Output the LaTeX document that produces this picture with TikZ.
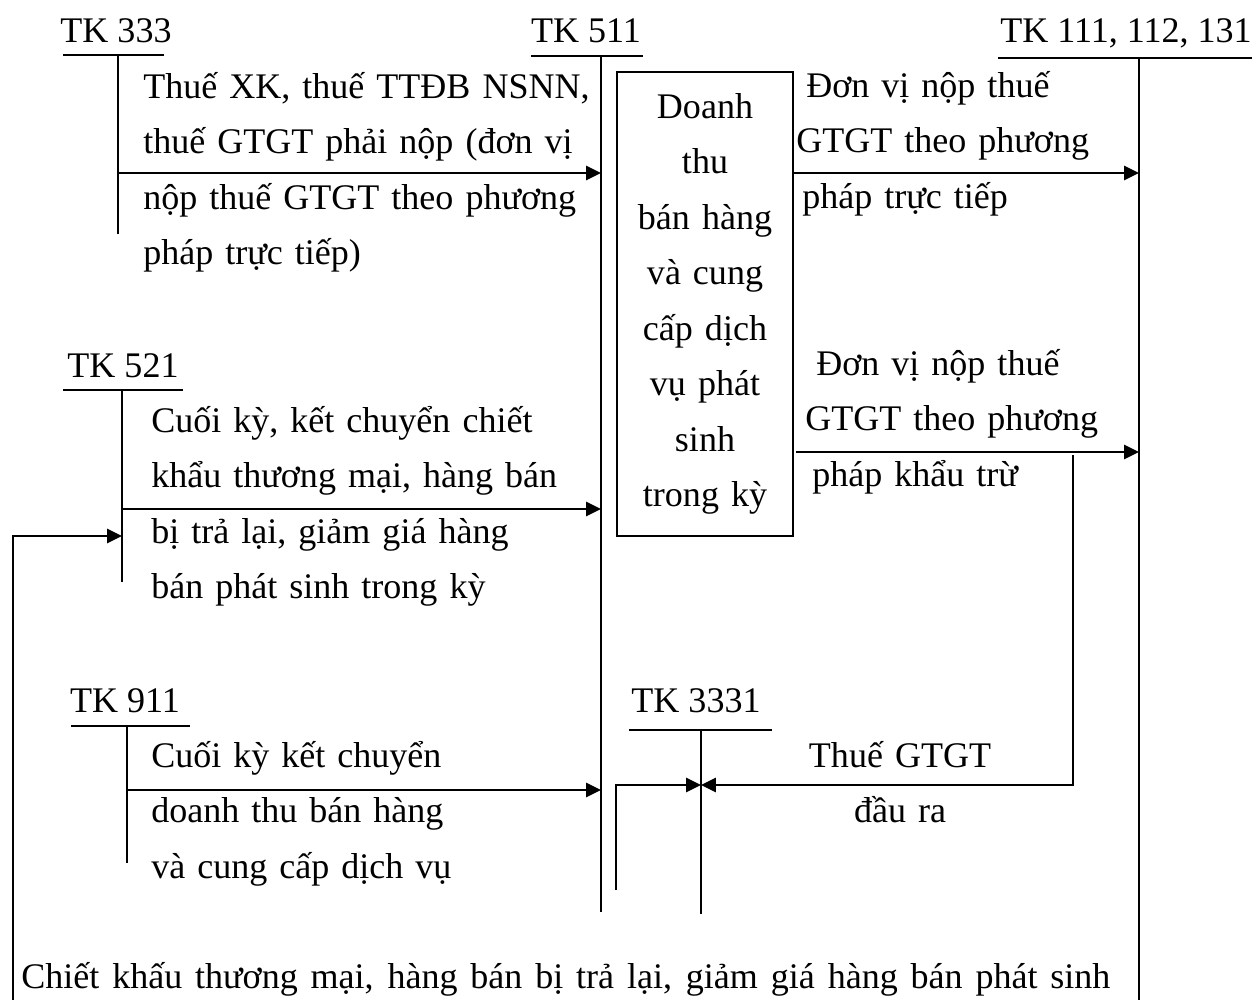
\documentclass[tikz,border=0pt]{standalone}
\usepackage{fontspec}
\setmainfont{Liberation Serif}
\usepackage{tikz}
\usetikzlibrary{arrows.meta,positioning,calc}

\begin{document}
\begin{tikzpicture}[
    font=\fontsize{20.5}{31.6}\selectfont,
    acctLabel/.style={
        inner sep=0pt, anchor=base
    },
    acctLine/.style={
        line width=0.9pt, draw=black
    },
    flowArrow/.style={
        -{Triangle[length=8.5pt, width=8pt]}, line width=1.6pt, draw=black
    },
    noteText/.style={
        inner sep=0pt, anchor=base west, align=left
    },
    revBox/.style={
        rectangle, draw=black, line width=1.1pt, minimum width=3.52cm,
        minimum height=9.28cm, text width=3.4cm, align=center, inner sep=0pt
    }
]
\useasboundingbox (0,0) rectangle (25.2,-20);

% Account heads
\node[acctLabel] (tk333) at (2.32,-0.84) {TK 333};
\node[acctLabel] (tk511) at (11.72,-0.84) {TK 511};
\node[acctLabel] (tk111) at (22.52,-0.84) {TK 111, 112, 131};
\node[acctLabel] (tk521) at (2.46,-7.54) {TK 521};
\node[acctLabel] (tk911) at (2.50,-14.24) {TK 911};
\node[acctLabel] (tk3331) at (13.92,-14.24) {TK 3331};

% Stem tops of the T-accounts
\coordinate (s333) at (2.36,-1.10);
\coordinate (s511) at (12.02,-1.12);
\coordinate (s111) at (22.78,-1.16);
\coordinate (s521) at (2.44,-7.80);
\coordinate (s911) at (2.54,-14.52);
\coordinate (s3331) at (14.02,-14.60);

% Underlines and stems
\draw[acctLine] (1.26,-1.10) -- (3.28,-1.10) (s333) -- (2.36,-4.68);
\draw[acctLine] (10.62,-1.12) -- (12.86,-1.12) (s511) -- (12.02,-18.24);
\draw[acctLine] (19.96,-1.16) -- (25.04,-1.16) (s111) -- (22.78,-20.0);
\draw[acctLine] (1.26,-7.80) -- (3.66,-7.80) (s521) -- (2.44,-11.64);
\draw[acctLine] (1.42,-14.52) -- (3.80,-14.52) (s911) -- (2.54,-17.26);
\draw[acctLine] (12.58,-14.60) -- (15.44,-14.60) (s3331) -- (14.02,-18.28);

% Revenue box under TK 511
\node[revBox] (rev) at (14.10,-6.08) {Doanh\\thu\\bán hàng\\và cung\\cấp dịch\\vụ phát\\sinh\\trong kỳ};

% Top row: TK 333 -> TK 511 -> TK 111
\coordinate (a333) at (2.36,-3.46);
\draw[flowArrow] (a333) -- (a333 -| s511);
\draw[flowArrow] (rev.east |- a333) -- (a333 -| s111);

% Middle row: TK 521 -> TK 511, deduction method -> TK 111
\coordinate (a521) at (2.44,-10.18);
\draw[flowArrow] (a521) -- (a521 -| s511);
\coordinate (aKT) at (15.92,-9.04);
\draw[flowArrow] (aKT) -- (aKT -| s111);

% Loop back into TK 521
\coordinate (loopStart) at (0.26,-20.0);
\coordinate (loopIn) at (2.44,-10.72);
\draw[flowArrow] (loopStart) |- (loopIn);

% Bottom row: TK 911 -> TK 511, output VAT into TK 3331
\coordinate (a911) at (2.54,-15.80);
\draw[flowArrow] (a911) -- (a911 -| s511);
\coordinate (vatL) at (12.32,-17.80);
\coordinate (vatR) at (21.46,-9.10);
\coordinate (vatIn) at (14.02,-15.70);
\draw[flowArrow] (vatL) |- (vatIn);
\draw[flowArrow] (vatR) |- (vatIn);

% Texts
\node[noteText, text width=9.6cm] (txt333) at (2.86,-1.96) {Thuế XK, thuế TTĐB NSNN,\\thuế GTGT phải nộp (đơn vị\\nộp thuế GTGT theo phương\\pháp trực tiếp)};
\node[noteText, text width=6.6cm] (txtTT) at (15.92,-1.94) {\hspace*{0.2cm}Đơn vị nộp thuế\\GTGT theo phương\\\hspace*{0.12cm}pháp trực tiếp};
\node[noteText, text width=8.8cm] (txt521) at (3.02,-8.64) {Cuối kỳ, kết chuyển chiết\\khẩu thương mại, hàng bán\\bị trả lại, giảm giá hàng\\bán phát sinh trong kỳ};
\node[noteText, text width=6.6cm] (txtKT) at (16.10,-7.50) {\hspace*{0.22cm}Đơn vị nộp thuế\\GTGT theo phương\\\hspace*{0.14cm}pháp khẩu trừ};
\node[noteText, text width=6.6cm] (txt911) at (3.02,-15.34) {Cuối kỳ kết chuyển\\doanh thu bán hàng\\và cung cấp dịch vụ};
\node[inner sep=0pt, anchor=base, text width=4cm, align=center] (txtVAT) at (18.00,-15.34) {Thuế GTGT\\đầu ra};
\node[noteText] (txtLoop) at (0.42,-19.76) {\makebox[21.78cm][s]{Chiết khấu thương mại, hàng bán bị trả lại, giảm giá hàng bán phát sinh}};

\end{tikzpicture}
\end{document}
